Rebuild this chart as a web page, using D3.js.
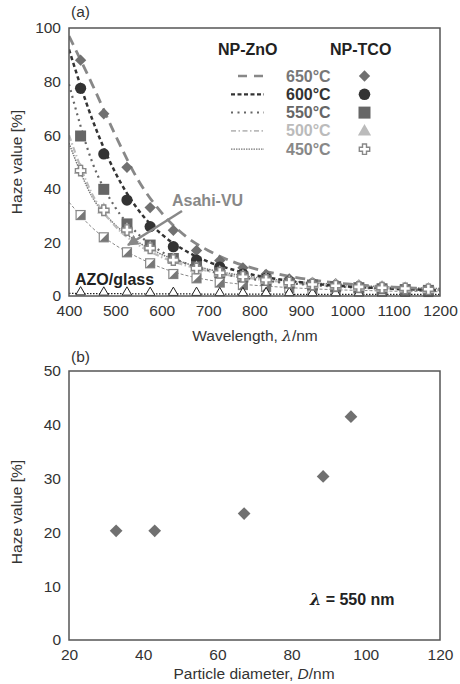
<!DOCTYPE html>
<html><head><meta charset="utf-8">
<script src="https://cdn.jsdelivr.net/npm/d3@7"></script>
<style>
body{margin:0;background:#fff;}
text{font-family:"Liberation Sans",Arial,Helvetica,sans-serif;}
</style></head>
<body>
<svg id="c" width="460" height="684"></svg>
<script>
// ---------- Data ----------
const xTicksA = [400,500,600,700,800,900,1000,1100,1200];
const yTicksA = [0,20,40,60,80,100];
const xTicksB = [20,40,60,80,100,120];
const yTicksB = [0,10,20,30,40,50];

const markerWl = [425,475,525,575,625,675,725,775,825,875,925,975,1025,1075,1125,1175];
const np650 = [88,68,48,33,24.5,17,13.2,10.5,8.1,6.4,5.1,4.6,4.1,3.7,3.2,2.9];
const np600 = [77.5,53,35.8,25.9,18.4,13.4,10.8,8.2,6.6,5.4,4.4,3.7,3.2,2.8,2.4,2.1];
const np550 = [59.7,39.8,26.9,19,14,10.9,8.7,7.1,5.8,4.8,4.1,3.5,3.1,2.7,2.4,2.1];
const np500 = [47.2,32.4,25,18.2,13.8,10.7,9,7.5,6.3,5.3,4.6,4.1,3.7,3.3,3,2.7];
const np450 = [46.8,32,24.6,17.8,13.4,10.3,8.7,7.2,6,5,4.3,3.8,3.4,3.1,2.8,2.5];
const asahiVU = [30.2,21.9,16.3,12.2,8.2,6.6,5,4.1,3.4,2.9,2.5,2.2,2,1.8,1.6,1.5];
const azoGlass = [1,0.9,0.9,0.8,0.8,0.8,0.7,0.7,0.7,0.7,0.6,0.6,0.6,0.6,0.6,0.6];

const fitWl = [400,450,500,550,600,650,700,750,800,850,900,950,1000,1050,1100,1150,1200];
const fit650 = [97,79,60,43,31,22.5,17,13,10.2,8.2,6.6,5.4,4.5,3.8,3.3,2.9,2.5];
const fit600 = [92,66,46,32,23,17,12.8,10,7.8,6.3,5.1,4.2,3.6,3.1,2.7,2.4,2.1];
const fit550 = [79,50,33,23,16.5,12.3,9.5,7.6,6.2,5.2,4.4,3.8,3.3,2.9,2.6,2.3,2.1];
const fit500 = [60,38,26,19,14.5,11.5,9.3,7.6,6.4,5.4,4.6,4,3.5,3.1,2.8,2.5,2.3];
const fit450 = [57,37,26.5,20,15.5,12.3,10,8.3,7,6,5.2,4.6,4.1,3.7,3.3,3,2.8];
const fitAsahi = [35,25.5,19,14.3,10.5,7.8,6,4.8,4,3.4,2.9,2.5,2.2,2,1.8,1.7,1.6];
const fitAzo = [1,0.9,0.9,0.8,0.8,0.8,0.7,0.7,0.7,0.7,0.6,0.6,0.6,0.6,0.6,0.6,0.6];

const legendLabels = ["650°C","600°C","550°C","500°C","450°C"];

const particleD = [32.7,43.1,67.2,88.5,96];
const hazeB = [20.3,20.3,23.5,30.4,41.5];

// ---------- Drawing ----------
const svg = d3.select("#c");
const FONT = 15.5;

function frame(g, xs, ys){
  const [x0,x1] = xs.range(), [y0,y1] = ys.range();
  g.append("rect").attr("x",x0).attr("y",y1).attr("width",x1-x0).attr("height",y0-y1)
   .attr("fill","none").attr("stroke","#555").attr("stroke-width",1.5);
}
function axes(g, xs, ys, xt, yt){
  const ax = g.append("g").attr("transform",`translate(0,${ys.range()[0]})`)
    .call(d3.axisBottom(xs).tickValues(xt).tickSize(0).tickPadding(9).tickFormat(d3.format("d")));
  const ay = g.append("g").attr("transform",`translate(${xs.range()[0]},0)`)
    .call(d3.axisLeft(ys).tickValues(yt).tickSize(0).tickPadding(8).tickFormat(d3.format("d")));
  [ax,ay].forEach(a=>{
    a.select(".domain").remove();
    a.selectAll("text").attr("font-size",FONT).attr("fill","#333")
      .attr("font-family","Liberation Sans, Arial, sans-serif");
  });
}

// Panel A
const xA = d3.scaleLinear().domain([400,1200]).range([69,440]);
const yA = d3.scaleLinear().domain([0,100]).range([296,28]);
const gA = svg.append("g");
const defs = svg.append("defs");
defs.append("clipPath").attr("id","clipA")
  .append("rect").attr("x",69).attr("y",28).attr("width",371).attr("height",268);

const line = d3.line().x(d=>xA(d[0])).y(d=>yA(d[1])).curve(d3.curveMonotoneX);
const zip = (a,b)=>a.map((v,i)=>[v,b[i]]);

const fits = [
  {v:fitAsahi, c:"#888", w:1, dash:"3,2"},
  {v:fitAzo, c:"#222", w:1.1, dash:"1.5,1.5"},
  {v:fit450, c:"#777", w:1.5, dash:"1.5,1"},
  {v:fit500, c:"#bbb", w:2.2, dash:"6,2.5,1.5,2.5"},
  {v:fit550, c:"#666", w:2.2, dash:"2,4"},
  {v:fit600, c:"#333", w:2.5, dash:"4,3"},
  {v:fit650, c:"#888", w:2.8, dash:"10,6"}
];
const gl = gA.append("g").attr("clip-path","url(#clipA)");
fits.forEach(f=>{
  gl.append("path").attr("d",line(zip(fitWl,f.v))).attr("fill","none")
    .attr("stroke",f.c).attr("stroke-width",f.w).attr("stroke-dasharray",f.dash);
});

// Markers
function diamond(g,x,y,s,col){
  g.append("path").attr("d",d3.symbol(d3.symbolSquare,s*s)())
   .attr("transform",`translate(${x},${y}) rotate(45)`).attr("fill",col);
}
function cross(g,x,y,col){
  const a=2, b=5.2;
  const p=`M${-a},${-b}H${a}V${-a}H${b}V${a}H${a}V${b}H${-a}V${a}H${-b}V${-a}H${-a}Z`;
  g.append("path").attr("d",p).attr("transform",`translate(${x},${y})`)
   .attr("fill","#fff").attr("stroke",col).attr("stroke-width",1.4);
}
function tri(g,x,y,size,fill,stroke){
  g.append("path").attr("d",d3.symbol(d3.symbolTriangle,size)())
   .attr("transform",`translate(${x},${y+0.8})`).attr("fill",fill)
   .attr("stroke",stroke||"none").attr("stroke-width",1);
}
function halfSq(g,x,y){
  const h=4.5;
  g.append("rect").attr("x",x-h).attr("y",y-h).attr("width",2*h).attr("height",2*h)
   .attr("fill","#fff").attr("stroke","#888").attr("stroke-width",1.2);
  g.append("path").attr("d",`M${x+h},${y-h}L${x+h},${y+h}L${x-h},${y+h}Z`).attr("fill","#777");
}
const gm = gA.append("g");
markerWl.forEach((w,i)=>{ halfSq(gm,xA(w),yA(asahiVU[i])); });
markerWl.forEach((w,i)=>{ tri(gm,xA(w),yA(azoGlass[i])-2,40,"#fff","#222"); });
markerWl.forEach((w,i)=>{ diamond(gm,xA(w),yA(np650[i]),8,"#707070"); });
markerWl.forEach((w,i)=>{ gm.append("circle").attr("cx",xA(w)).attr("cy",yA(np600[i])).attr("r",5.6).attr("fill","#333"); });
markerWl.forEach((w,i)=>{ gm.append("rect").attr("x",xA(w)-5.5).attr("y",yA(np550[i])-5.5).attr("width",11).attr("height",11).attr("fill","#666"); });
markerWl.forEach((w,i)=>{ tri(gm,xA(w),yA(np500[i]),75,"#bbb"); });
markerWl.forEach((w,i)=>{ cross(gm,xA(w),yA(np450[i]),"#888"); });

frame(gA,xA,yA);
axes(gA,xA,yA,xTicksA,yTicksA);

// Legend
const legCols = ["#777","#333","#666","#bbb","#888"];
const legDash = [["#888",2.5,"9,7"],["#333",2.2,"4,2.5"],["#666",2,"2,4.5"],["#bbb",1.8,"5,2.5,1.5,2.5"],["#777",1.3,"1.5,1"]];
gA.append("text").attr("x",218).attr("y",55).attr("font-size",16).attr("font-weight","bold").attr("fill","#222").text("NP-ZnO");
gA.append("text").attr("x",330).attr("y",55).attr("font-size",16).attr("font-weight","bold").attr("fill","#222").text("NP-TCO");
legendLabels.forEach((t,i)=>{
  const y = 76 + i*18.3;
  const d = legDash[i];
  gA.append("line").attr("x1",i===0?238:231).attr("x2",264).attr("y1",y).attr("y2",y)
    .attr("stroke",d[0]).attr("stroke-width",d[1]).attr("stroke-dasharray",d[2]);
  gA.append("text").attr("x",286).attr("y",y+5.5).attr("font-size",16).attr("font-weight","bold")
    .attr("fill",legCols[i]).text(t);
  const mx=364.5;
  if(i===0) diamond(gA,mx,y,8,"#707070");
  if(i===1) gA.append("circle").attr("cx",mx).attr("cy",y).attr("r",5.8).attr("fill","#333");
  if(i===2) gA.append("rect").attr("x",mx-6).attr("y",y-6).attr("width",12).attr("height",12).attr("fill","#666");
  if(i===3) tri(gA,mx,y,75,"#bbb");
  if(i===4) cross(gA,mx,y,"#888");
});

// Annotations
gA.append("text").attr("x",172).attr("y",206).attr("font-size",16).attr("font-weight","bold").attr("fill","#888").text("Asahi-VU");
defs.append("marker").attr("id","arr").attr("viewBox","0 0 10 10").attr("refX",9).attr("refY",5)
  .attr("markerWidth",4.5).attr("markerHeight",4.5).attr("orient","auto")
  .append("path").attr("d","M0,0L10,5L0,10Z").attr("fill","#888");
gA.append("line").attr("x1",182).attr("y1",211).attr("x2",128).attr("y2",245)
  .attr("stroke","#888").attr("stroke-width",2.5).attr("marker-end","url(#arr)");
gA.append("text").attr("x",75).attr("y",285).attr("font-size",16).attr("font-weight","bold").attr("fill","#222").text("AZO/glass");

gA.append("text").attr("x",71).attr("y",17).attr("font-size",15.5).attr("fill","#333").text("(a)");
gA.append("text").attr("transform","translate(22,162) rotate(-90)").attr("text-anchor","middle")
  .attr("font-size",15.5).attr("fill","#333").text("Haze value [%]");
const tA = gA.append("text").attr("x",255).attr("y",341).attr("text-anchor","middle").attr("font-size",15.5).attr("fill","#333");
tA.append("tspan").text("Wavelength, ");
tA.append("tspan").attr("font-style","italic").attr("font-family","DejaVu Serif, serif").text("λ");
tA.append("tspan").text("/nm");

// Panel B
const xB = d3.scaleLinear().domain([20,120]).range([69,440]);
const yB = d3.scaleLinear().domain([0,50]).range([640,371]);
const gB = svg.append("g");
frame(gB,xB,yB);
axes(gB,xB,yB,xTicksB,yTicksB);
particleD.forEach((d,i)=>{ diamond(gB,xB(d),yB(hazeB[i]),9,"#707070"); });
gB.append("text").attr("x",71).attr("y",362).attr("font-size",15.5).attr("fill","#333").text("(b)");
gB.append("text").attr("transform","translate(22,512) rotate(-90)").attr("text-anchor","middle")
  .attr("font-size",15.5).attr("fill","#333").text("Haze value [%]");
const tB = gB.append("text").attr("x",254).attr("y",679).attr("text-anchor","middle").attr("font-size",15.5).attr("fill","#333");
tB.append("tspan").text("Particle diameter, ");
tB.append("tspan").attr("font-style","italic").text("D");
tB.append("tspan").text("/nm");
const tL = gB.append("text").attr("x",310).attr("y",605).attr("font-size",16).attr("font-weight","bold").attr("fill","#222");
tL.append("tspan").attr("font-style","italic").attr("font-family","DejaVu Serif, serif").text("λ");
tL.append("tspan").text(" = 550 nm");
</script>
</body></html>
